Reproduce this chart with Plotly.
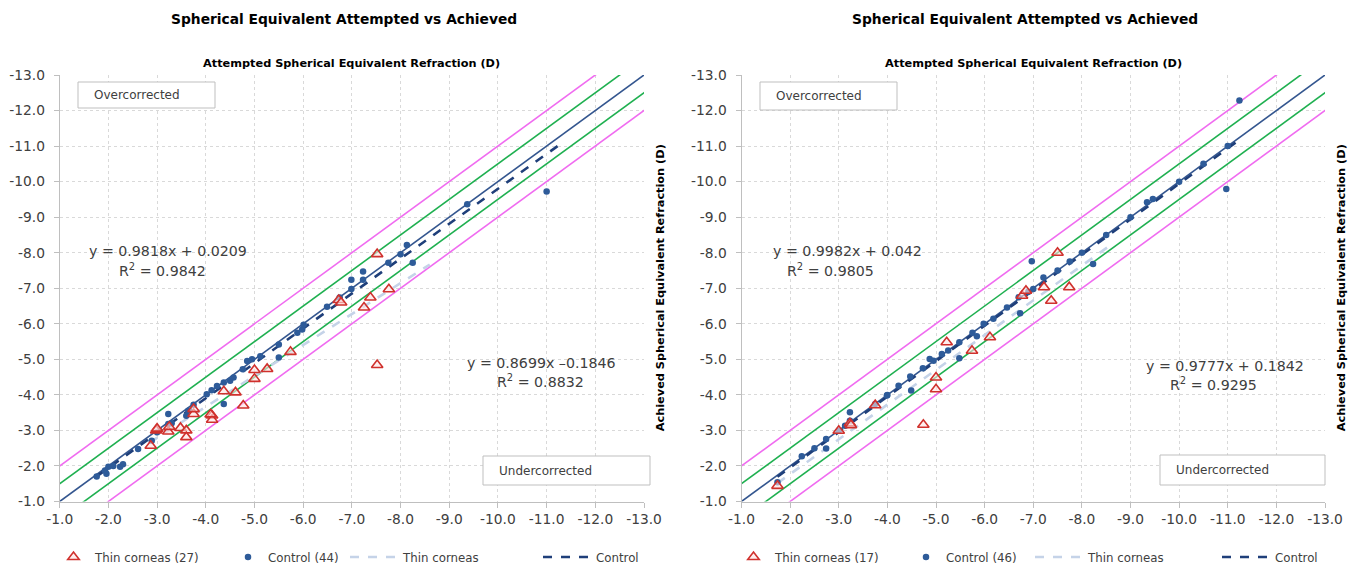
import plotly.graph_objects as go

# ---------------- data ----------------
tick_vals = [-1, -2, -3, -4, -5, -6, -7, -8, -9, -10, -11, -12, -13]
tick_text = ["-1.0", "-2.0", "-3.0", "-4.0", "-5.0", "-6.0", "-7.0", "-8.0",
             "-9.0", "-10.0", "-11.0", "-12.0", "-13.0"]

# Left chart
left_thin_x = [-2.87, -2.98, -3.23, -3.25, -3.48, -3.6, -3.6, -3.75, -3.75, -4.13, -4.13,
               -4.37, -4.61, -4.77, -5.0, -5.0, -5.26, -5.74, -6.73, -7.25, -7.38,
               -7.52, -7.76, -7.52, -4.1, -3.0, -6.78]
left_thin_y = [-2.57, -3.0, -2.97, -3.1, -3.07, -3.0, -2.81, -3.46, -3.6, -3.42, -3.3,
               -4.1, -4.07, -3.7, -4.7, -4.45, -4.73, -5.21, -6.67, -6.46, -6.74,
               -7.96, -6.97, -4.84, -3.45, -3.05, -6.6]
left_ctrl_x = [-1.76, -1.93, -1.96, -2.0, -2.1, -2.24, -2.3, -2.61, -2.89, -3.0, -3.23, -3.23,
               -3.3, -3.6, -3.64, -3.75, -4.02, -4.12, -4.23, -4.37, -4.37, -4.5, -4.57,
               -4.76, -4.85, -4.95, -5.12, -5.5, -5.5, -5.88, -5.98, -6.01, -6.49, -6.75,
               -6.99, -6.99, -7.23, -7.23, -7.75, -8.0, -8.13, -8.25, -9.37, -11.0]
left_ctrl_y = [-1.7, -1.87, -1.78, -1.98, -2.0, -1.98, -2.05, -2.48, -2.71, -2.95, -3.46, -3.18,
               -3.2, -3.41, -3.55, -3.72, -4.02, -4.13, -4.25, -4.35, -3.74, -4.4, -4.49,
               -4.72, -4.95, -5.0, -5.09, -5.42, -5.05, -5.75, -5.84, -5.97, -6.48, -6.74,
               -7.24, -6.98, -7.47, -7.24, -7.72, -7.96, -8.22, -7.72, -9.36, -9.72]
left_thin_fit = (0.8699, -0.1846)
left_ctrl_fit = (0.9818, 0.0209)
left_thin_range = [-2.85, -8.6]
left_ctrl_range = [-1.76, -11.3]

# Right chart
right_thin_x = [-1.74, -3.0, -3.23, -3.25, -3.75, -4.74, -5.0, -5.0, -5.22, -5.74, -6.11,
                -6.77, -6.85, -7.22, -7.37, -7.5, -7.74]
right_thin_y = [-1.44, -2.99, -3.2, -3.15, -3.71, -3.16, -4.49, -4.16, -5.48, -5.24, -5.62,
                -6.79, -6.93, -7.03, -6.65, -8.0, -7.03]
right_ctrl_x = [-1.74, -2.24, -2.74, -2.74, -3.0, -3.13, -3.23, -3.23, -3.75, -3.99, -4.23,
                -4.47, -4.49, -4.73, -4.87, -4.95, -5.12, -5.25, -5.48, -5.48, -5.75, -5.84,
                -5.98, -6.18, -6.46, -6.7, -6.73, -6.97, -7.0, -7.21, -7.5, -7.75, -8.0,
                -8.23, -8.5, -9.0, -9.34, -9.46, -10.0, -10.5, -10.97, -11.0, -11.24,
                -2.5, -4.0, -6.9]
right_ctrl_y = [-1.54, -2.27, -2.49, -2.76, -2.99, -3.13, -3.51, -3.27, -3.74, -3.98, -4.26,
                -4.52, -4.12, -4.75, -5.01, -4.96, -5.15, -5.25, -5.48, -5.03, -5.75, -5.65,
                -6.0, -6.14, -6.46, -6.75, -6.3, -7.76, -6.98, -7.3, -7.5, -7.75, -8.0,
                -7.68, -8.5, -9.0, -9.42, -9.51, -10.0, -10.5, -9.79, -11.0, -12.28,
                -2.5, -4.0, -6.9]
right_thin_fit = (0.9777, 0.1842)
right_ctrl_fit = (0.9982, 0.042)
right_thin_range = [-1.74, -8.6]
right_ctrl_range = [-1.74, -11.24]

# reference lines: offsets from the identity line
ref_offsets = [0.0, -0.5, 0.5, -1.0, 1.0]
ref_colors = ["#34568f", "#1fb050", "#1fb050", "#f06cf0", "#f06cf0"]

titles = ["Spherical Equivalent Attempted vs Achieved"] * 2
legend_names = [["Thin corneas (27)", "Control (44)", "Thin corneas", "Control"],
                ["Thin corneas (17)", "Control (46)", "Thin corneas", "Control"]]
eq_texts = [
    [("y = 0.9818x + 0.0209", "R<sup>2</sup> = 0.9842"), ("y = 0.8699x \u20130.1846", "R<sup>2</sup> = 0.8832")],
    [("y = 0.9982x + 0.042", "R<sup>2</sup> = 0.9805"), ("y = 0.9777x + 0.1842", "R<sup>2</sup> = 0.9295")],
]

FONT = "DejaVu Sans"
TXT = "#404040"
W, H = 1355, 568
dom_x = [[59.7 / W, 644 / W], [741.5 / W, 1325 / W]]
dom_y = [1 - 501.5 / H, 1 - 75 / H]
# legend item left edges (px) and symbol-area widths for thin-scatter, ctrl-scatter, thin-trend, ctrl-trend
legend_px = [[52, 228, 345, 538], [732, 906, 1030, 1217]]
legend_iw = [33, 30, 48, 48]

fig = go.Figure()

charts = [
    (left_thin_x, left_thin_y, left_ctrl_x, left_ctrl_y, left_thin_fit, left_ctrl_fit,
     left_thin_range, left_ctrl_range),
    (right_thin_x, right_thin_y, right_ctrl_x, right_ctrl_y, right_thin_fit, right_ctrl_fit,
     right_thin_range, right_ctrl_range),
]

def lgname(i, k):
    n = i * 4 + k + 1
    return "legend" if n == 1 else "legend%d" % n

for i, (tx, ty, cx, cy, tfit, cfit, trng, crng) in enumerate(charts):
    xa = "x" if i == 0 else "x2"
    ya = "y" if i == 0 else "y2"
    for off, col in zip(ref_offsets, ref_colors):
        lx = [-1 + max(off, 0), -13 + min(off, 0)]
        ly = [v - off for v in lx]
        fig.add_trace(go.Scatter(x=lx, y=ly, mode="lines", line=dict(color=col, width=1.6),
                                 showlegend=False, hoverinfo="skip", xaxis=xa, yaxis=ya))
    fig.add_trace(go.Scatter(x=trng, y=[tfit[0] * v + tfit[1] for v in trng], mode="lines",
                             line=dict(color="#c5d3e8", width=2.6, dash="dash"),
                             name=legend_names[i][2], legend=lgname(i, 2),
                             xaxis=xa, yaxis=ya))
    fig.add_trace(go.Scatter(x=crng, y=[cfit[0] * v + cfit[1] for v in crng], mode="lines",
                             line=dict(color="#1f3f7a", width=2.6, dash="dash"),
                             name=legend_names[i][3], legend=lgname(i, 3),
                             xaxis=xa, yaxis=ya))
    fig.add_trace(go.Scatter(x=cx, y=cy, mode="markers",
                             marker=dict(symbol="circle", size=6.5, color="#2e5b99"),
                             name=legend_names[i][1], legend=lgname(i, 1),
                             xaxis=xa, yaxis=ya))
    fig.add_trace(go.Scatter(x=tx, y=ty, mode="markers",
                             marker=dict(symbol="triangle-up", size=10, color="rgba(255,225,225,0.6)",
                                         line=dict(color="#d0312d", width=1.6)),
                             name=legend_names[i][0], legend=lgname(i, 0),
                             xaxis=xa, yaxis=ya))

axis_common = dict(range=[-1, -13], tickvals=tick_vals, ticktext=tick_text,
                   showgrid=True, gridcolor="#d9d9d9", griddash="dot", gridwidth=1,
                   showline=True, linecolor="#bfbfbf", linewidth=1,
                   ticks="outside", ticklen=5, tickcolor="#bfbfbf",
                   tickfont=dict(family=FONT, size=13.8, color=TXT),
                   zeroline=False, mirror=False, automargin=False)

layout_kw = dict(
    width=W, height=H, margin=dict(l=0, r=0, t=0, b=0, autoexpand=False),
    paper_bgcolor="white", plot_bgcolor="white",
    xaxis=dict(domain=dom_x[0], anchor="y", **axis_common),
    yaxis=dict(domain=dom_y, anchor="x", ticklabelstandoff=6, **axis_common),
    xaxis2=dict(domain=dom_x[1], anchor="y2", **axis_common),
    yaxis2=dict(domain=dom_y, anchor="x2", ticklabelstandoff=6, **axis_common),
    showlegend=True,
)
for i in range(2):
    for k in range(4):
        layout_kw[lgname(i, k)] = dict(
            orientation="h", x=legend_px[i][k] / W, y=1 - 557 / H,
            xanchor="left", yanchor="middle", itemwidth=legend_iw[k],
            font=dict(family=FONT, size=11.8, color=TXT),
            bgcolor="rgba(0,0,0,0)", borderwidth=0)
fig.update_layout(**layout_kw)

ann = []
shapes = []
for i in range(2):
    x0, x1 = dom_x[i]
    cx = (x0 + x1) / 2
    ann.append(dict(text="<b>" + titles[i] + "</b>", x=(cx * W - 8) / W, y=1 - 19 / H,
                    xref="paper", yref="paper", xanchor="center", yanchor="middle",
                    showarrow=False, font=dict(family=FONT, size=13.8, color="#000000")))
    ann.append(dict(text="<b>Attempted Spherical Equivalent Refraction (D)</b>", x=cx, y=1 - 63 / H,
                    xref="paper", yref="paper", xanchor="center", yanchor="middle", showarrow=False,
                    font=dict(family=FONT, size=11.3, color="#000000")))
    ann.append(dict(text="<b>Achieved Spherical Equivalent Refraction (D)</b>", x=x1 + 16 / W,
                    y=(dom_y[0] + dom_y[1]) / 2, xref="paper", yref="paper", textangle=-90,
                    xanchor="center", yanchor="middle",
                    showarrow=False, font=dict(family=FONT, size=11.3, color="#000000")))

box_specs = [
    ("Overcorrected", 78, 82, 215, 108),
    ("Undercorrected", 483, 456, 650, 485),
    ("Overcorrected", 760, 82, 897, 110),
    ("Undercorrected", 1160, 455, 1325, 485),
]
for text, bx0, by0, bx1, by1 in box_specs:
    shapes.append(dict(type="rect", xref="paper", yref="paper", x0=bx0 / W, x1=bx1 / W,
                       y0=1 - by1 / H, y1=1 - by0 / H, line=dict(color="#bfbfbf", width=1),
                       fillcolor="white", layer="above"))
    ann.append(dict(text=text, x=(bx0 + 14) / W, y=1 - (by0 + by1) / 2 / H, xref="paper", yref="paper",
                    xanchor="left", yanchor="middle", showarrow=False,
                    font=dict(family=FONT, size=12, color=TXT)))

eq_pos = [[(168, 162, 251, 270), (541, 540, 363, 381)], [(847, 830, 251, 270), (1225, 1213, 366, 384)]]
for i in range(2):
    for (e, r), (ex, rx, ey1, ey2) in zip(eq_texts[i], eq_pos[i]):
        ann.append(dict(text=e, x=ex / W, y=1 - ey1 / H, xref="paper", yref="paper", showarrow=False,
                        xanchor="center", yanchor="middle",
                        font=dict(family=FONT, size=14.2, color=TXT)))
        ann.append(dict(text=r, x=rx / W, y=1 - ey2 / H, xref="paper", yref="paper", showarrow=False,
                        xanchor="center", yanchor="middle",
                        font=dict(family=FONT, size=14.2, color=TXT)))

fig.update_layout(annotations=ann, shapes=shapes)
fig.write_html("out.html", config={"displayModeBar": False},
               post_script="document.body.style.margin='0';")
